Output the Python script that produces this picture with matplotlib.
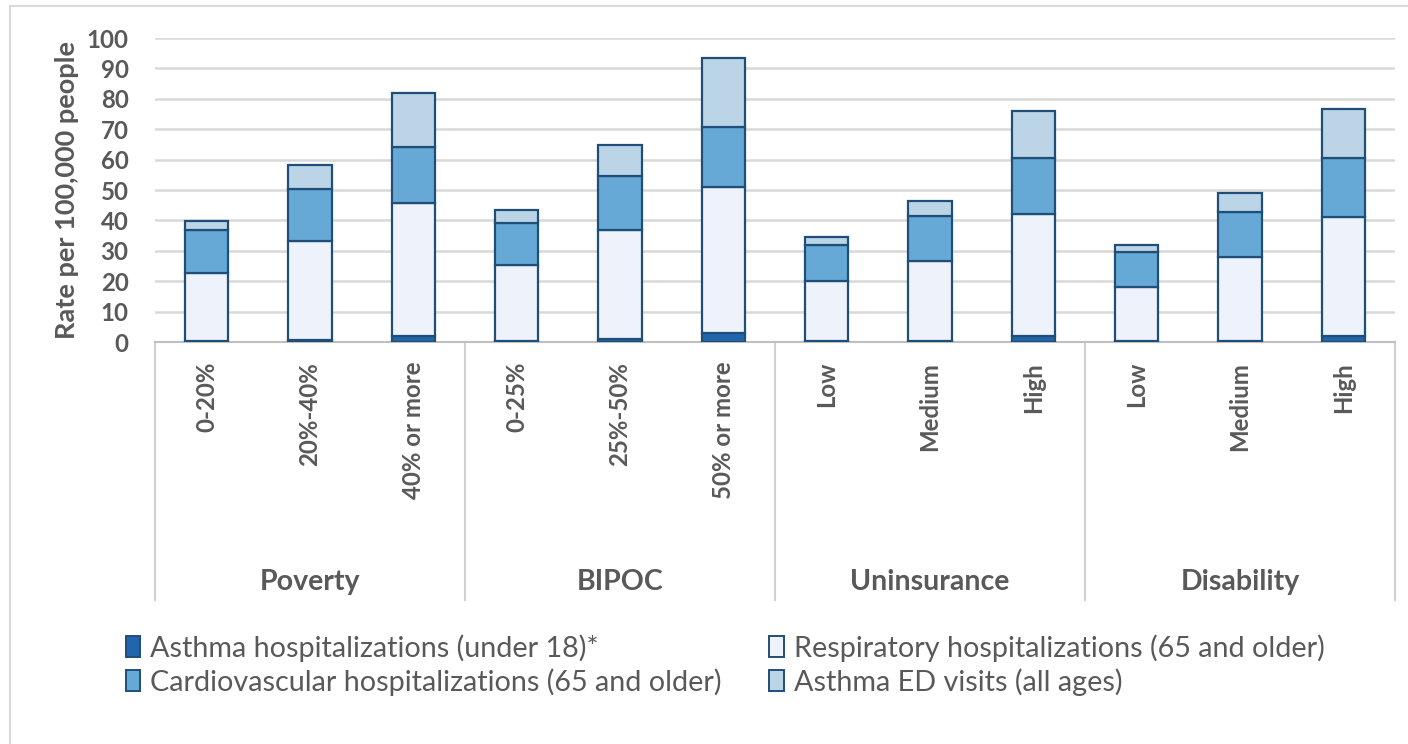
import matplotlib.pyplot as plt
from matplotlib.patches import Patch
from matplotlib.lines import Line2D
import numpy as np

plt.rcParams['font.family'] = ['Lato', 'DejaVu Sans']

# categorias (grupo, nivel)
groups = ['Poverty', 'BIPOC', 'Uninsurance', 'Disability']
levels = ['0-20%', '20%-40%', '40% or more',
          '0-25%', '25%-50%', '50% or more',
          'Low', 'Medium', 'High',
          'Low', 'Medium', 'High']

# valores de cada segmento (taxa por 100.000)
asthma_u18 = [0.3, 0.5, 2.0, 0.3, 1.0, 2.8, 0.2, 0.3, 2.0, 0.2, 0.3, 2.0]
respiratory = [22.5, 32.8, 43.8, 24.9, 35.8, 48.1, 20.0, 26.3, 40.1, 17.8, 27.6, 39.0]
cardio = [14.0, 16.9, 18.5, 14.1, 17.9, 19.7, 11.7, 14.8, 18.3, 11.7, 15.0, 19.4]
asthma_ed = [3.1, 8.0, 17.5, 4.1, 10.1, 22.7, 2.7, 5.1, 15.6, 2.2, 6.0, 16.2]

series = [
    ('Asthma hospitalizations (under 18)*', asthma_u18, '#2166ac'),
    ('Respiratory hospitalizations (65 and older)', respiratory, '#eef2fb'),
    ('Cardiovascular hospitalizations (65 and older)', cardio, '#67a9d6'),
    ('Asthma ED visits (all ages)', asthma_ed, '#bcd5e6'),
]

edge = '#1f4e79'
gray = '#595959'

fig = plt.figure(figsize=(14.08, 7.44), dpi=100)
ax = fig.add_axes([155 / 1408, 1 - 342 / 744, 1240 / 1408, 304 / 744])

x = np.arange(len(levels))
bottom = np.zeros(len(levels))
handles = {}
for name, vals, color in series:
    ax.bar(x, vals, width=0.42, bottom=bottom, color=color, edgecolor=edge, linewidth=1.6, zorder=3)
    bottom += np.array(vals)
    handles[name] = Patch(facecolor=color, edgecolor=edge, linewidth=1.4, label=name)

ax.set_xlim(-0.5, len(levels) - 0.5)
ax.set_ylim(0, 100)
ax.set_yticks(range(0, 101, 10))
ax.yaxis.grid(True, color='#d9d9d9', linewidth=1.8, zorder=0)
ax.tick_params(axis='y', length=0, pad=19, labelsize=17.3, labelcolor=gray)
for lbl in ax.get_yticklabels():
    lbl.set_fontweight('bold')
ax.set_xticks([])
for s in ['top', 'right', 'left']:
    ax.spines[s].set_visible(False)
ax.spines['bottom'].set_color('#bfbfbf')
ax.spines['bottom'].set_linewidth(1.5)

ax.set_ylabel('Rate per 100,000 people', fontsize=19.5, fontweight='bold', color=gray)
ax.yaxis.set_label_coords(-0.0615, 0.5)

# eixo de categorias em dois niveis
trans = ax.get_xaxis_transform()
for i, lev in enumerate(levels):
    ax.text(i, -0.065, lev, rotation=90, ha='center', va='top', fontsize=17.3,
            fontweight='bold', color=gray, transform=trans)
for g, name in enumerate(groups):
    ax.text(3 * g + 1, -0.79, name, ha='center', va='center', fontsize=20.5,
            fontweight='bold', color=gray, transform=trans)
for b in range(len(groups) + 1):
    ax.add_line(Line2D([3 * b - 0.5, 3 * b - 0.5], [0, -0.85], transform=trans,
                       color='#d0d0d0', linewidth=1.5, clip_on=False))

order = [series[0][0], series[2][0], series[1][0], series[3][0]]
fig.legend(handles=[handles[n] for n in order], ncol=2, loc='center left',
           bbox_to_anchor=(100 / 1408, 1 - 665 / 744), frameon=False,
           fontsize=20.7, labelcolor=gray, handlelength=0.5, handleheight=0.75,
           handletextpad=0.35, columnspacing=1.65, labelspacing=0.22)

# moldura do grafico
fig.add_artist(Line2D([10 / 1408, 1], [1 - 6 / 744, 1 - 6 / 744], color='#d9d9d9', linewidth=1.5))
fig.add_artist(Line2D([10 / 1408, 10 / 1408], [0, 1 - 6 / 744], color='#d9d9d9', linewidth=1.5))

fig.savefig('out.png', dpi=100)
